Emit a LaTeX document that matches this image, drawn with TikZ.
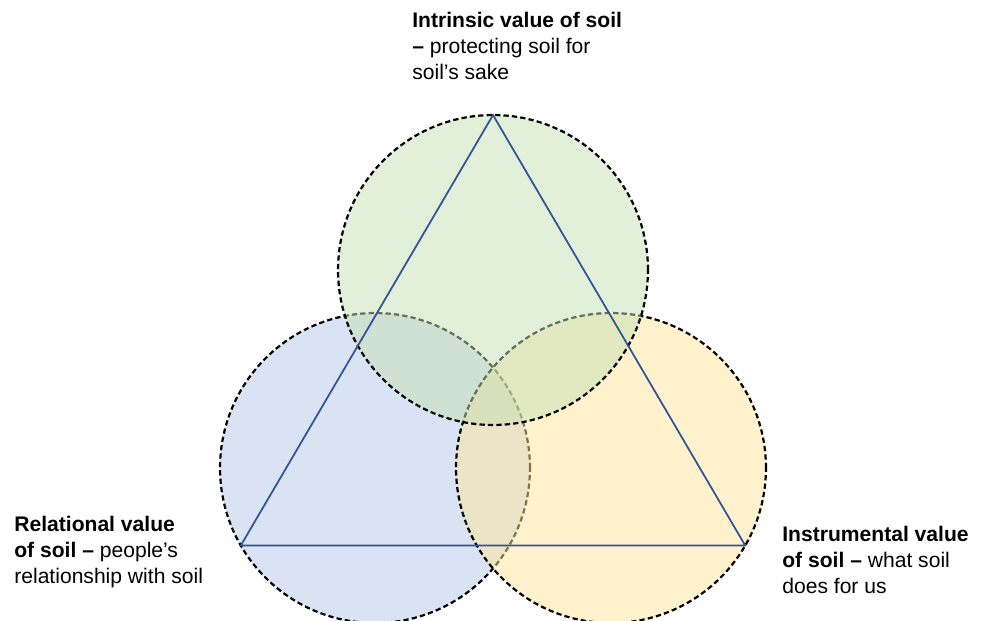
\documentclass[tikz,border=0pt]{standalone}
\usepackage{fontspec}
\setmainfont{Liberation Sans}
\usetikzlibrary{shapes.geometric}
\definecolor{intrinsicfill}{HTML}{C5E0B4}
\definecolor{relationalfill}{HTML}{B4C7E7}
\definecolor{instrumentalfill}{HTML}{FFE699}
\definecolor{triblue}{HTML}{2F5597}
\tikzstyle{valuecircle} = [circle, minimum size=6.2cm, inner sep=0pt, outer sep=0pt, draw=black, line width=1.25pt, dash pattern=on 3pt off 1.8pt, fill opacity=0.5]
\tikzstyle{valuetext} = [anchor=north west, inner sep=0pt, align=left, font=\fontsize{12}{14.8}\selectfont]
\tikzstyle{triline} = [draw=triblue, line width=1pt, line join=miter]

\begin{document}
\begin{tikzpicture}[x=0.02cm, y=-0.02cm]
                \useasboundingbox (0,0) rectangle (981,620);
                \node (relational) [valuecircle, fill=relationalfill] at (375,468) {};
                \node (instrumental) [valuecircle, fill=instrumentalfill] at (611,468) {};
                \node (intrinsic) [valuecircle, fill=intrinsicfill] at (493,270) {};

                \draw [triline] (intrinsic.north) -- (instrumental.-30) -- (relational.210) -- cycle;

                \node (intrinsictext) [valuetext] at (412,12) {\textbf{Intrinsic value of soil}\\\textbf{–} protecting soil for\\soil’s sake};
                \node (relationaltext) [valuetext] at (14,516) {\textbf{Relational value}\\\textbf{of soil –} people’s\\relationship with soil};
                \node (instrumentaltext) [valuetext] at (782,526) {\textbf{Instrumental value}\\\textbf{of soil –} what soil\\does for us};
            \end{tikzpicture}
\end{document}
